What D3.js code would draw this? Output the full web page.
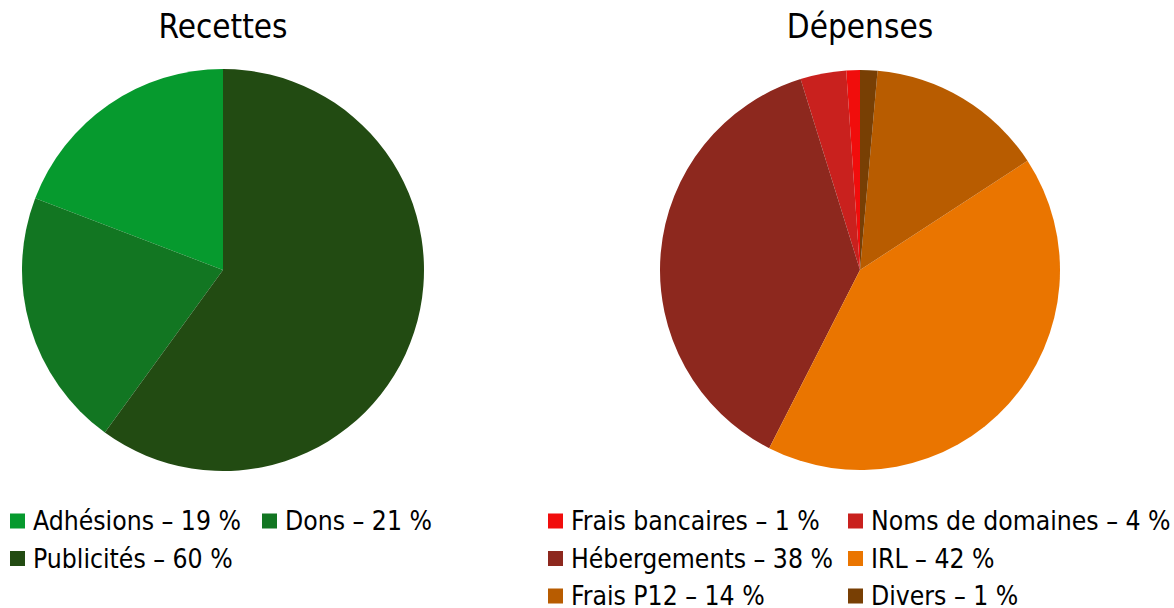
<!DOCTYPE html>
<html>
<head>
<meta charset="utf-8">
<script src="https://cdn.jsdelivr.net/npm/d3@7"></script>
<style>
  html, body { margin: 0; padding: 0; background: #fff; }
  svg { display: block; font-family: "DejaVu Sans Condensed", "DejaVu Sans", sans-serif; font-stretch: condensed; }
</style>
</head>
<body>
<svg id="chart" width="1174" height="608"></svg>
<script>
// Recettes
const recetteLabels = ['Adhésions', 'Dons', 'Publicités'];
const recetteValues = [19.2, 20.8, 60];
const recetteColors = ['#069a2e', '#127622', '#224b12'];

// Dépenses
const depenseLabels = ['Frais bancaires', 'Noms de domaines', 'Hébergements', 'IRL', 'Frais P12', 'Divers'];
const depenseValues = [1.1, 3.7, 37.7, 41.7, 14.4, 1.4];
const depenseColors = ['#f10d0c', '#c9211e', '#8d281e', '#ea7500', '#b85c00', '#783f04'];

const titles = ['Recettes', 'Dépenses'];

const svg = d3.select('#chart');

// counter-clockwise from 12 o'clock, like the original export
const pie = d3.pie().sort(null)
  .startAngle(0).endAngle(-2 * Math.PI);

function drawPie(cfg) {
  const g = svg.append('g').attr('transform', `translate(${cfg.cx},${cfg.cy})`);
  const arc = d3.arc().innerRadius(0).outerRadius(cfg.r);
  const data = cfg.values.map((v, i) => ({ v, label: cfg.labels[i], color: cfg.colors[i] }));
  g.selectAll('path')
    .data(pie.value(d => d.v)(data))
    .join('path')
    .attr('d', arc)
    .attr('fill', d => d.data.color);

  svg.append('text')
    .attr('x', cfg.cx).attr('y', 38)
    .attr('text-anchor', 'middle')
    .attr('font-size', 33)
    .attr('fill', '#000')
    .text(cfg.title);

  // legend, filled row by row in two columns
  const lg = svg.append('g');
  data.forEach((d, i) => {
    const col = i % 2, row = Math.floor(i / 2);
    const x = cfg.legendX[col];
    const y = 521 + row * 37.5;
    lg.append('rect')
      .attr('x', x).attr('y', y - 7.5)
      .attr('width', 15).attr('height', 15)
      .attr('fill', d.color);
    lg.append('text')
      .attr('x', x + 23).attr('y', y + 9)
      .attr('font-size', 26.3)
      .attr('fill', '#000')
      .text(`${d.label} – ${Math.round(d.v)} %`);
  });
}

drawPie({
  title: titles[0], cx: 223, cy: 270, r: 201,
  labels: recetteLabels, values: recetteValues, colors: recetteColors,
  legendX: [10, 262]
});

drawPie({
  title: titles[1], cx: 860, cy: 270, r: 200,
  labels: depenseLabels, values: depenseValues, colors: depenseColors,
  legendX: [548, 848]
});
</script>
</body>
</html>
